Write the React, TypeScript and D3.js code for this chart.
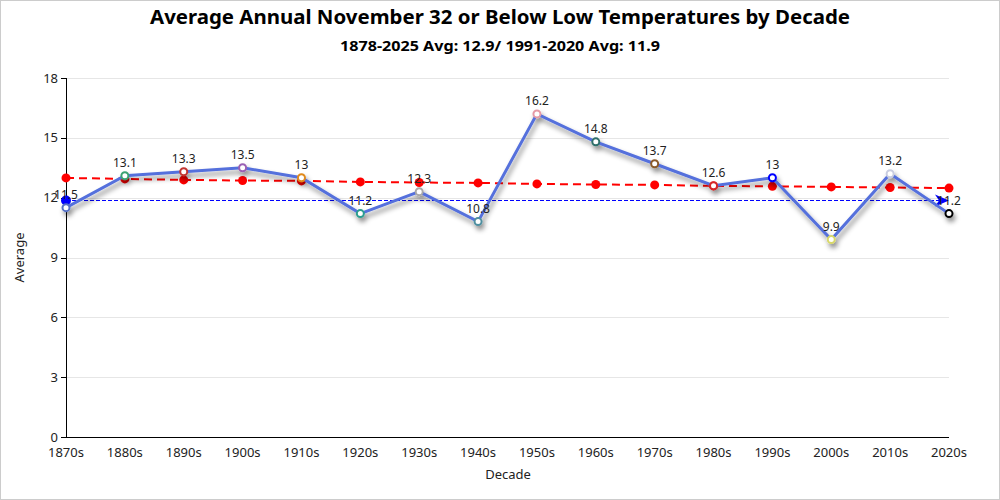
import React from "react";
import * as d3 from "d3";

const decades = ["1870s","1880s","1890s","1900s","1910s","1920s","1930s","1940s","1950s","1960s","1970s","1980s","1990s","2000s","2010s","2020s"];
const averages = [11.5,13.1,13.3,13.5,13,11.2,12.3,10.8,16.2,14.8,13.7,12.6,13,9.9,13.2,11.2];
const trend = [12.99,12.94,12.89,12.86,12.84,12.79,12.76,12.74,12.69,12.66,12.64,12.59,12.57,12.54,12.51,12.48];
const markerColors = ["#5470c6","#3ba272","#c23531","#9a60b4","#e08a1e","#2a9d8f","#a8a8a8","#4f8fa0","#e59aa6","#2f6f6a","#8b5a2b","#d62728","#0000ff","#d8d86a","#c8cce0","#000000"];
const normal = 11.9;
const yTicks = [0,3,6,9,12,15,18];

const W = 1000, H = 500;
const M = { left: 66, right: 51, top: 78, bottom: 63 };

export default function App() {
  const x = d3.scalePoint<string>().domain(decades).range([M.left, W - M.right]);
  const y = d3.scaleLinear().domain([0, 18]).range([H - M.bottom, M.top]);
  const line = d3.line<number>().x((_, i) => x(decades[i])!).y(d => y(d));
  const font = "'Noto Sans', 'Open Sans', sans-serif";
  const x0 = M.left, x1 = W - M.right;
  const yn = Math.round(y(normal)) + 0.5;
  return (
    <svg width={W} height={H} style={{ position: "absolute", left: 0, top: 0, fontFamily: font }}>
      <defs>
        <filter id="sh" x="-20%" y="-20%" width="140%" height="160%">
          <feDropShadow dx="2" dy="4" stdDeviation="2.5" floodColor="#000" floodOpacity="0.45" />
        </filter>
      </defs>
      <rect x={0.5} y={0.5} width={W - 1} height={H - 1} fill="#fff" stroke="#ccc" />
      <text x={500} y={24} textAnchor="middle" fontSize={20} fontWeight="bold" fill="#000" textLength={700} lengthAdjust="spacingAndGlyphs">Average Annual November 32 or Below Low Temperatures by Decade</text>
      <text x={500} y={51} textAnchor="middle" fontSize={15} fontWeight="bold" fill="#000" textLength={320} lengthAdjust="spacingAndGlyphs">1878-2025 Avg: 12.9/ 1991-2020 Avg: 11.9</text>
      {yTicks.map(t => (
        <g key={t}>
          {t > 0 && <line x1={x0} x2={x1} y1={Math.round(y(t)) + 0.5} y2={Math.round(y(t)) + 0.5} stroke="#e6e6e6" />}
          <line x1={x0 - 5} x2={x0} y1={Math.round(y(t)) + 0.5} y2={Math.round(y(t)) + 0.5} stroke="#000" />
          <text x={x0 - 8} y={y(t) + 4.5} textAnchor="end" fontSize={13} fill="#222">{t}</text>
        </g>
      ))}
      <line x1={x0 + 0.5} x2={x0 + 0.5} y1={M.top} y2={H - M.bottom} stroke="#000" />
      <line x1={x0} x2={x1} y1={H - M.bottom + 0.5} y2={H - M.bottom + 0.5} stroke="#000" />
      {decades.map(d => (
        <text key={d} x={x(d)!} y={H - M.bottom + 20} textAnchor="middle" fontSize={13} fill="#222">{d}</text>
      ))}
      <text x={508} y={479} textAnchor="middle" fontSize={13} fill="#222">Decade</text>
      <text transform={`translate(24,${(M.top + H - M.bottom) / 2}) rotate(-90)`} textAnchor="middle" fontSize={13} fill="#222">Average</text>
      {/* normal line */}
      <line x1={x0} x2={x1 - 8} y1={yn} y2={yn} stroke="#0000ff" strokeWidth={1} strokeDasharray="4,2" />
      <circle cx={x0} cy={yn} r={5} fill="#0000ff" />
      <path d={`M${x1 - 14},${yn - 6} L${x1},${yn} L${x1 - 14},${yn + 6} L${x1 - 10},${yn} Z`} fill="#0000ff" />
      {/* trend */}
      <path d={line(trend)!} fill="none" stroke="#ff0000" strokeWidth={2} strokeDasharray="8,5" />
      {trend.map((v, i) => (
        <circle key={i} cx={x(decades[i])!} cy={y(v)} r={4.5} fill="#ff0000" />
      ))}
      {/* main series */}
      <g filter="url(#sh)">
        <path d={line(averages)!} fill="none" stroke="#5470dc" strokeWidth={3} />
        {averages.map((v, i) => (
          <circle key={i} cx={x(decades[i])!} cy={y(v)} r={3.5} fill="#fff" stroke={markerColors[i]} strokeWidth={2} />
        ))}
      </g>
      {averages.map((v, i) => (
        <text key={i} x={x(decades[i])!} y={y(v) - 9} textAnchor="middle" fontSize={12} fill="#222">{v}</text>
      ))}
    </svg>
  );
}
